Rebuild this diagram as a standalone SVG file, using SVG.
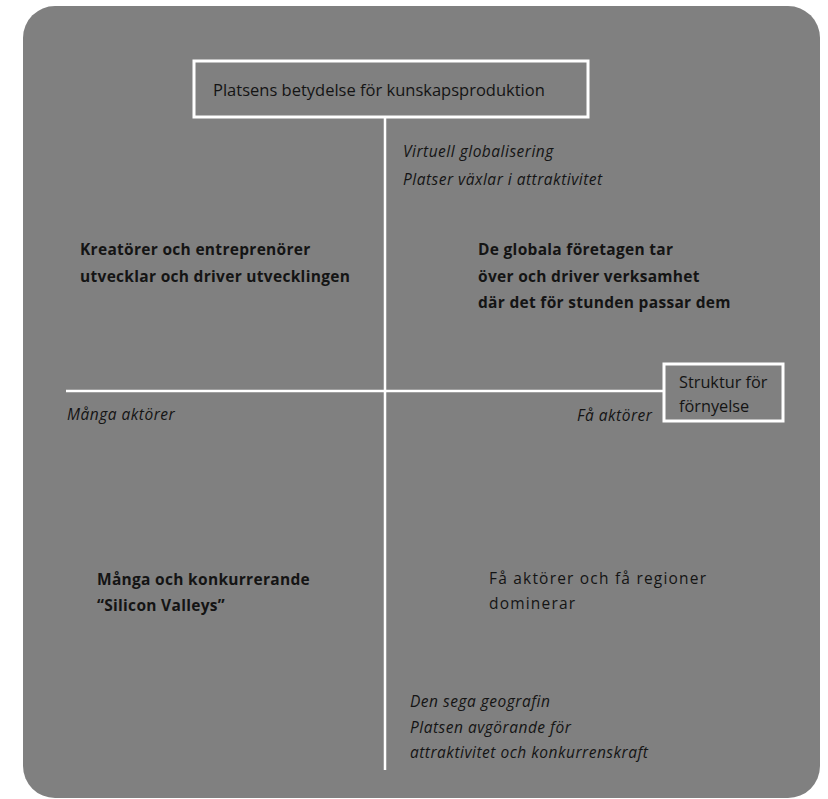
<svg xmlns="http://www.w3.org/2000/svg" width="828" height="799" viewBox="0 0 828 799">
<style>
text{font-family:"Open Sans","Noto Sans","Liberation Sans",sans-serif;fill:#141414}
.b{font-weight:bold;font-size:15.5px;letter-spacing:0.3px}
.i{font-style:italic;font-size:15.5px;letter-spacing:0.5px}
.r{font-size:16.3px}
.q{font-size:15.5px;letter-spacing:1.2px}
.box{fill:none;stroke:#fff;stroke-width:3}
.ln{stroke:#fff;stroke-width:2.5;fill:none}
</style>
<rect x="0" y="0" width="828" height="799" fill="#fff"/>
<rect x="23" y="6" width="797" height="792" rx="32" fill="#808080"/>
<g id="connectors">
<line class="ln" x1="385" y1="117" x2="385" y2="770"/>
<line class="ln" x1="66" y1="391" x2="663" y2="391"/>
</g>
<g id="title">
<rect class="box" x="194" y="61" width="394" height="56"/>
<text x="213" y="96" style="font-size:16.5px">Platsens betydelse för kunskapsproduktion</text>
</g>
<g id="struktur">
<rect class="box" x="664" y="364" width="119" height="57"/>
<text class="r" x="679" y="388">Struktur för</text>
<text class="r" x="679" y="412">förnyelse</text>
</g>
<g id="top-right">
<text class="i" x="403" y="157">Virtuell globalisering</text>
<text class="i" x="403" y="185">Platser växlar i attraktivitet</text>
</g>
<g id="q1">
<text class="b" x="80" y="255">Kreatörer och entreprenörer</text>
<text class="b" x="80" y="282">utvecklar och driver utvecklingen</text>
</g>
<g id="q2">
<text class="b" x="478" y="255">De globala företagen tar</text>
<text class="b" x="478" y="282">över och driver verksamhet</text>
<text class="b" x="478" y="308">där det för stunden passar dem</text>
</g>
<g id="left-axis">
<text class="i" x="67" y="420">Många aktörer</text>
</g>
<g id="right-axis">
<text class="i" x="577" y="421">Få aktörer</text>
</g>
<g id="q3">
<text class="b" x="97" y="585">Många och konkurrerande</text>
<text class="b" x="97" y="611">“Silicon Valleys”</text>
</g>
<g id="q4">
<text class="q" x="489" y="584">Få aktörer och få regioner</text>
<text class="q" x="489" y="609">dominerar</text>
</g>
<g id="bottom">
<text class="i" x="410" y="707">Den sega geografin</text>
<text class="i" x="410" y="733">Platsen avgörande för</text>
<text class="i" x="410" y="758">attraktivitet och konkurrenskraft</text>
</g>
</svg>
